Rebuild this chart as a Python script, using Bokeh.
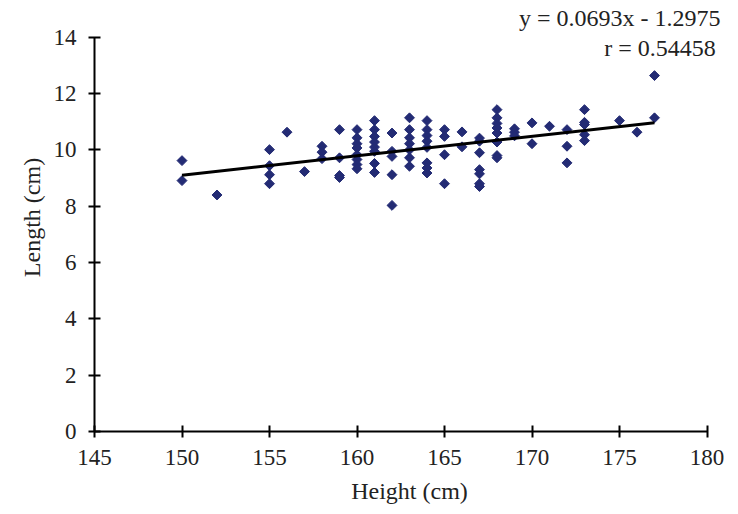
import numpy as np
from bokeh.plotting import figure
from bokeh.models import Range1d, Label, FixedTicker, ColumnDataSource
from bokeh.embed import file_html
from bokeh.resources import INLINE

heights = ([150]*2 + [152] + [155]*4 + [156] + [157] + [158]*3 + [159]*4 + [160]*8 +
           [161]*8 + [162]*5 + [163]*7 + [164]*8 + [165]*4 + [166]*2 + [167]*7 +
           [168]*8 + [169]*3 + [170]*2 + [171] + [172]*3 + [173]*5 + [175] + [176] + [177]*2)
lengths = ([9.62, 8.91] + [8.40] + [10.01, 9.44, 9.12, 8.80] + [10.63] + [9.23] +
           [10.13, 9.92, 9.69] + [10.72, 9.72, 9.09, 9.02] +
           [10.72, 10.43, 10.22, 10.07, 9.83, 9.66, 9.48, 9.33] +
           [11.04, 10.72, 10.48, 10.28, 10.10, 9.95, 9.52, 9.20] +
           [10.60, 9.95, 9.77, 9.12, 8.03] +
           [11.14, 10.72, 10.43, 10.22, 10.00, 9.72, 9.42] +
           [11.04, 10.72, 10.51, 10.31, 10.09, 9.54, 9.36, 9.18] +
           [10.72, 10.48, 9.83, 8.80] + [10.64, 10.11] +
           [10.42, 10.31, 9.90, 9.30, 9.15, 8.80, 8.70] +
           [11.43, 11.14, 10.94, 10.78, 10.60, 10.28, 9.80, 9.72] +
           [10.75, 10.63, 10.50] + [10.96, 10.22] + [10.84] + [10.72, 10.13, 9.54] +
           [11.43, 10.98, 10.90, 10.54, 10.33] + [11.04] + [10.63] + [12.64, 11.14])

slope = 0.0693
intercept = -1.2975
fit_x = [150, 177]
fit_y = [slope * v + intercept for v in fit_x]

x_ticks = [145, 150, 155, 160, 165, 170, 175, 180]
y_ticks = [0, 2, 4, 6, 8, 10, 12, 14]
eq_text = "y = 0.0693x - 1.2975"
r_text = "r = 0.54458"

FONT = "Liberation Serif"

p = figure(width=730, height=506, output_backend="svg", toolbar_location=None,
           x_range=Range1d(145, 181), y_range=Range1d(0, 15.2),
           min_border_left=94, min_border_right=6, min_border_top=3, min_border_bottom=74)
p.outline_line_color = None
p.grid.visible = False
p.background_fill_color = "white"

for ax in (p.xaxis[0], p.yaxis[0]):
    ax.axis_line_color = "black"
    ax.axis_line_width = 2
    ax.major_tick_line_color = "black"
    ax.major_tick_line_width = 2
    ax.major_tick_in = 6
    ax.major_tick_out = 6
    ax.minor_tick_line_color = None
    ax.major_label_text_font = FONT
    ax.major_label_text_font_size = "23px"
    ax.major_label_text_color = "#222222"
    ax.axis_label_text_font = FONT
    ax.axis_label_text_font_size = "24px"
    ax.axis_label_text_font_style = "normal"
    ax.axis_label_text_color = "#222222"

p.xaxis.bounds = (145, 180)
p.yaxis.bounds = (0, 14)
p.xaxis.ticker = FixedTicker(ticks=x_ticks)
p.yaxis.ticker = FixedTicker(ticks=y_ticks)
p.xaxis.axis_label = "Height (cm)"
p.yaxis.axis_label = "Length (cm)"
p.xaxis.major_label_standoff = 12
p.yaxis.major_label_standoff = 12
p.xaxis.axis_label_standoff = 10
p.yaxis.axis_label_standoff = 6

src = ColumnDataSource(dict(x=heights, y=lengths))
p.scatter("x", "y", source=src, marker="square", angle=np.pi/4, size=7,
          fill_color="#232b74", line_color="#232b74")
p.line(fit_x, fit_y, line_color="black", line_width=3)

p.add_layout(Label(x=180.77, y=14.67, text=eq_text, text_align="right", text_baseline="alphabetic",
                   text_font=FONT, text_font_size="24px", text_color="#222222"))
p.add_layout(Label(x=180.5, y=13.63, text=r_text, text_align="right", text_baseline="alphabetic",
                   text_font=FONT, text_font_size="24px", text_color="#222222"))

open("out.html", "w").write(file_html(p, INLINE))
